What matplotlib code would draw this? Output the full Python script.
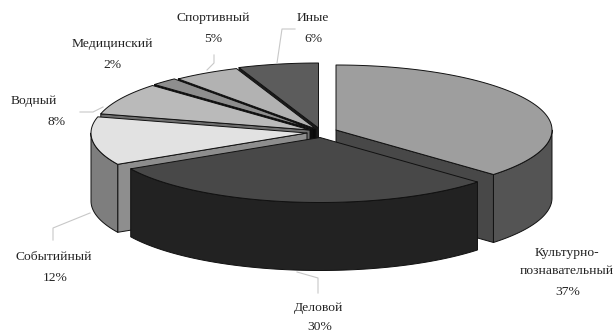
# exploded 3d pie of tourism types, built by hand from polygons
import numpy as np
import matplotlib.pyplot as plt
from matplotlib.patches import Polygon

plt.rcParams['font.family'] = ['Liberation Serif', 'DejaVu Serif']

names = ['Культурно-\nпознавательный', 'Деловой', 'Событийный',
         'Водный', 'Медицинский', 'Спортивный', 'Иные']
values = [37, 30, 12, 8, 2, 5, 6]

top_colors = ['#9e9e9e', '#484848', '#e2e2e2', '#bababa', '#8e8e8e', '#b2b2b2', '#5c5c5c']
side_colors = ['#545454', '#222222', '#7e7e7e', '#6a6a6a', '#444444', '#5a5a5a', '#2e2e2e']
wall_colors = ['#484848', '#222222', '#8e8e8e', '#6e6e6e', '#0a0a0a', '#0a0a0a', '#1c1c1c']

# apex of each slice on the canvas
apex_x = [336, 320, 307, 310, 312, 316, 318.5]
apex_y = [130, 137.5, 133, 130, 129, 129, 128]

rx, ry = 216, 65
depth = 68

name_x = [567, 319, 54, 34, 112, 213, 313]
name_y = [262, 308, 257, 101, 44, 18, 18]
pct_x = [568, 320, 55, 57, 112, 213, 313]
pct_y = [292, 327, 278, 122, 65, 39, 39]

# grey leader lines next to the labels
leaders = [
    ([297, 318, 318], [272, 278, 293]),
    ([90, 53, 53], [213, 228, 240]),
    ([80, 93, 103], [112, 112, 107]),
    ([207, 214, 214], [70, 63, 55]),
    ([277, 282, 295], [63, 29, 29]),
]


def rim(cx, cy, t0, t1):
    t = np.radians(np.linspace(t0, t1, max(2, int(abs(t1 - t0)) * 2)))
    return cx + rx * np.sin(t), cy - ry * np.cos(t)


fig = plt.figure(figsize=(6.13, 3.33), dpi=100)
ax = fig.add_axes([0, 0, 1, 1])
ax.set_xlim(0, 613)
ax.set_ylim(333, 0)
ax.axis('off')

edges = np.cumsum([0] + values) * 3.6
slices = []
for i in range(len(values)):
    slices.append((edges[i], edges[i + 1], i))
# paint from the back of the pie to the front
slices.sort(key=lambda s: np.cos(np.radians((s[0] + s[1]) / 2)), reverse=True)


def face(xs, ys, color, z):
    ax.add_patch(Polygon(np.column_stack([xs, ys]), closed=True, facecolor=color,
                         edgecolor='#111111', linewidth=0.7, joinstyle='round', zorder=z))


z = 1
for t0, t1, i in slices:
    cx, cy = apex_x[i], apex_y[i]

    # radial walls that turn towards the viewer
    for t, normal in ((t0, t0 - 90), (t1, t1 + 90)):
        if np.cos(np.radians(normal)) < -1e-6:
            ex, ey = rim(cx, cy, t, t)
            face([cx, ex[0], ex[0], cx], [cy, ey[0], ey[0] + depth, cy + depth],
                 wall_colors[i], z)
            z += 1

    # outer rim, only the near half of the ellipse shows
    a, b = max(t0, 90), min(t1, 270)
    if a < b:
        xs, ys = rim(cx, cy, a, b)
        face(np.r_[xs, xs[::-1]], np.r_[ys, ys[::-1] + depth], side_colors[i], z)
        z += 1

    xs, ys = rim(cx, cy, t0, t1)
    face(np.r_[cx, xs], np.r_[cy, ys], top_colors[i], z)
    z += 1

for lx, ly in leaders:
    ax.plot(lx, ly, color='#c8c8c8', lw=0.8, zorder=z)

for i, name in enumerate(names):
    ax.text(name_x[i], name_y[i], name, ha='center', va='center', fontsize=9.7,
            color='#222222', linespacing=1.75, zorder=z + 1)
    ax.text(pct_x[i], pct_y[i], f'{values[i]}%', ha='center', va='center', fontsize=9.7,
            color='#222222', zorder=z + 1)

fig.savefig('out.png', dpi=100)
